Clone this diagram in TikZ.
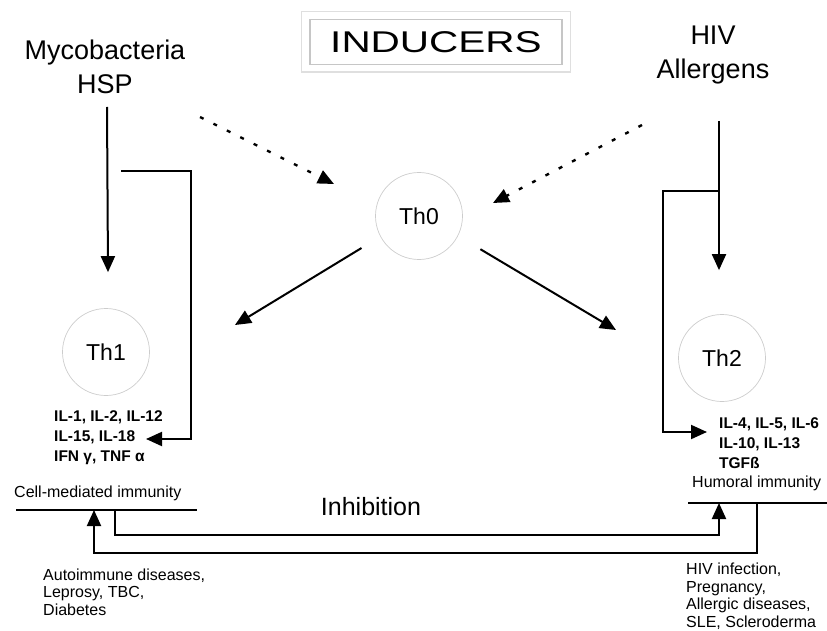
\documentclass[tikz,border=0pt]{standalone}
\usepackage{fontspec}
\setmainfont{Liberation Sans}
\usetikzlibrary{arrows.meta, positioning, calc}

\begin{document}
\begin{tikzpicture}[x=1pt, y=-1pt,
    cell/.style={circle, draw=gray!40, line width=0.7pt, minimum size=87pt, inner sep=0pt, font=\fontsize{23}{26}\selectfont},
    inducer/.style={align=center, inner sep=0pt, font=\fontsize{27}{34}\selectfont},
    cyto/.style={align=left, anchor=west, inner sep=0pt, font=\fontsize{15.5}{20}\selectfont\bfseries},
    disease/.style={align=left, anchor=west, inner sep=0pt, font=\fontsize{16}{17.5}\selectfont},
    immun/.style={anchor=west, inner sep=0pt, font=\fontsize{16}{19}\selectfont},
    arr/.style={-{Triangle[length=16pt, width=14pt]}, line width=2pt},
    dotarr/.style={arr, line width=2.4pt, dash pattern=on 4pt off 11pt},
    ]
    \useasboundingbox (0,0) rectangle (827,631);

    % Title box
    \node[draw=gray!45, line width=1.2pt, minimum width=252pt, minimum height=45pt, font=\fontsize{30}{32}\selectfont] (inducers) at (436,42) {\scalebox{1.35}[1]{INDUCERS}};
    \draw[gray!25, line width=1.2pt] ($(inducers.north west)+(-8,-7)$) rectangle ($(inducers.south east)+(8,7)$);

    % Inducers
    \node[inducer] (myco) at (105,67) {Mycobacteria\\HSP};
    \node[inducer] (hiv) at (713,55) {HIV\\Allergens};

    % T helper cells
    \node[cell] (th0) at (419,216) {Th0};
    \node[cell] (th1) at (106,352) {Th1};
    \node[cell] (th2) at (722,358) {Th2};

    % Cytokines
    \node[cyto] (th1cyto) at (54,438) {IL-1, IL-2, IL-12\\IL-15, IL-18\\IFN γ, TNF α};
    \node[cyto] (th2cyto) at (719,443) {IL-4, IL-5, IL-6\\IL-10, IL-13\\TGFß};

    % Immunity
    \node[immun] (cmi) at (14,493) {Cell-mediated immunity};
    \node[immun] (hum) at (692,483) {Humoral immunity};
    \draw[line width=1.6pt] (16,510) coordinate (cmiL) -- (197,510) coordinate (cmiR);
    \draw[line width=1.6pt] (688,503) coordinate (humL) -- (827,503) coordinate (humR);
    \node[font=\fontsize{25}{28}\selectfont] (inhib) at (371,507) {Inhibition};

    % Diseases
    \node[disease] (autoimm) at (43,592) {Autoimmune diseases,\\Leprosy, TBC,\\Diabetes};
    \node[disease] (humdis) at (686,596) {HIV infection,\\Pregnancy,\\Allergic diseases,\\SLE, Scleroderma};

    % Free ends
    \coordinate (dl1) at (200,117);
    \coordinate (dl2) at (334,184);
    \coordinate (dr1) at (642,125);
    \coordinate (dr2) at (493,203);
    \coordinate (th1tip) at (235,325);
    \coordinate (th2tip) at (616,330);
    \coordinate (th1in) at (146,439);
    \coordinate (cmiA) at (94,510);
    \coordinate (cmiB) at (115,510);
    \coordinate (humA) at (719,503);
    \coordinate (humB) at (757,503);

    % Arrows from inducers
    \draw[arr] ($(myco.center)+(2,40)$) -- ([xshift=2pt, yshift=36pt]th1.north);
    \draw[arr] ($(hiv.center)+(6,66)$) -- ([xshift=-3pt, yshift=44pt]th2.north);
    \draw[dotarr] (dl1) -- (dl2);
    \draw[dotarr] (dr1) -- (dr2);

    % Th0 differentiation
    \draw[arr, shorten <=22pt] (th0.208) -- (th1tip);
    \draw[arr, shorten <=26pt] (th0.333) -- (th2tip);

    % Feedback brackets
    \draw[arr] (121,171) -- (191,171) |- (th1in);
    \draw[arr] (719,191) -- (663,191) |- ([xshift=-12pt, yshift=11pt]th2cyto.west);

    % Inhibition connectors
    \draw[arr] (cmiB) -- ++(0,25) -| (humA);
    \draw[arr] (humB) -- ++(0,50) -| (cmiA);
\end{tikzpicture}
\end{document}
